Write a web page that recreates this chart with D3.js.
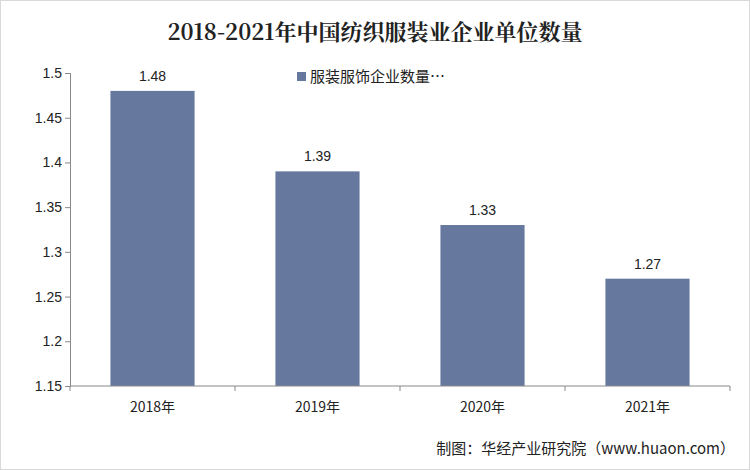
<!DOCTYPE html>
<html><head><meta charset="utf-8">
<script src="https://cdn.jsdelivr.net/npm/d3@7/dist/d3.min.js"></script>
<style>body{margin:0;background:#fff}</style></head>
<body><svg id="c" width="750" height="470"></svg>
<script>
const categories=["2018年","2019年","2020年","2021年"];
const values=[1.48,1.39,1.33,1.27];
const yTicks=[1.15,1.2,1.25,1.3,1.35,1.4,1.45,1.5];
const seriesName="服装服饰企业数量…";
const svg=d3.select("#c");
svg.append("rect").attr("x",0.5).attr("y",0.5).attr("width",749).attr("height",469).attr("fill","#fff").attr("stroke","#d9d9d9");
const x=d3.scaleBand().domain(categories).range([70,730]).paddingInner(0.49).paddingOuter(0.245);
const y=d3.scaleLinear().domain([1.15,1.5]).range([386,73]);
svg.append("text").attr("x",375).attr("y",40).attr("text-anchor","middle").attr("font-family","Noto Serif CJK SC, Noto Sans CJK SC, serif").attr("font-weight","bold").attr("font-size",22).attr("fill","#222").text("2018-2021年中国纺织服装业企业单位数量");
svg.selectAll("rect.bar").data(values).join("rect").attr("class","bar")
 .attr("x",(d,i)=>x(categories[i])).attr("width",x.bandwidth()).attr("y",d=>y(d)).attr("height",d=>386-y(d)).attr("fill","#67789f");
svg.selectAll("text.lbl").data(values).join("text").attr("class","lbl")
 .attr("x",(d,i)=>x(categories[i])+x.bandwidth()/2).attr("y",d=>y(d)-10).attr("text-anchor","middle")
 .attr("font-family","Liberation Sans, Arial").attr("font-size",14).attr("fill","#222").text(d=>d.toFixed(2));
const ya=svg.append("g").attr("transform","translate(70,0)").call(d3.axisLeft(y).tickValues(yTicks).tickSize(5).tickFormat(d=>String(+d.toFixed(2))));
ya.selectAll("text").attr("font-family","Liberation Sans, Arial").attr("font-size",14).attr("fill","#222");
ya.selectAll("line,path").attr("stroke","#888");
const bx=d3.scaleLinear().domain([0,4]).range([70,730]);
const xa=svg.append("g").attr("transform","translate(0,386)");
xa.append("line").attr("x1",70).attr("x2",730).attr("stroke","#888");
xa.selectAll("line.t").data(d3.range(5)).join("line").attr("class","t").attr("x1",d=>bx(d)).attr("x2",d=>bx(d)).attr("y1",0).attr("y2",5).attr("stroke","#888");
xa.selectAll("text").data(categories).join("text").attr("x",d=>x(d)+x.bandwidth()/2).attr("y",26).attr("text-anchor","middle")
 .attr("font-family","Noto Sans CJK SC").attr("font-size",14).attr("fill","#222").text(d=>d);
svg.append("rect").attr("x",297).attr("y",72).attr("width",9).attr("height",9).attr("fill","#67789f");
svg.append("text").attr("x",310).attr("y",82).attr("font-family","Noto Sans CJK SC").attr("font-size",15).attr("fill","#222").text(seriesName);
svg.append("text").attr("x",735).attr("y",454).attr("text-anchor","end").attr("font-family","Noto Sans CJK SC").attr("font-size",15).attr("fill","#222").text("制图：华经产业研究院（www.huaon.com）");
</script></body></html>
